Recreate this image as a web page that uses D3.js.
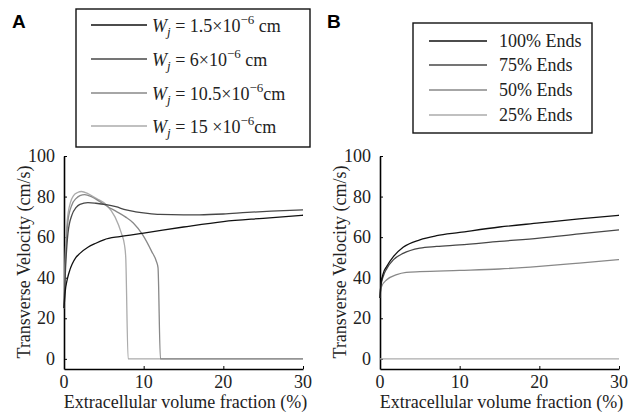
<!DOCTYPE html>
<html>
<head>
<meta charset="utf-8">
<script src="https://cdn.jsdelivr.net/npm/d3@7"></script>
<style>
  body { margin: 0; background: #fff; }
  svg { display: block; }
  .serif { font-family: "Liberation Serif", "Times New Roman", Times, "DejaVu Serif", serif; }
</style>
</head>
<body>
<svg id="chart" width="640" height="416"></svg>
<script>
// panel A: x = extracellular volume fraction (%), y = velocity (cm/s)
var w1x = [0, 0.15, 0.4, 0.75, 1, 1.5, 2, 3, 4, 5, 7, 10, 15, 20, 25, 30];
var w1y = [25, 33, 39, 44, 46.5, 50, 52, 55, 57, 58.7, 60.3, 62, 65, 67.7, 69.3, 70.8];
var w6x = [0, 0.2, 0.5, 1, 1.5, 2, 3, 4, 5.3, 6.5, 7.8, 9, 10.5, 12, 15, 17, 20, 23, 26, 30];
var w6y = [25, 45, 62, 71, 74.5, 76.2, 77, 76.7, 76, 75, 73.4, 72.5, 71.7, 71.2, 71, 71, 71.4, 72.2, 72.8, 73.4];
var w10x = [0, 0.2, 0.5, 1, 1.5, 2, 2.6, 3.5, 4.5, 5.5, 6.6, 7.7, 8.7, 9.9, 11, 11.6, 11.8, 12.1, 20, 30];
var w10y = [25, 50, 68, 76, 79, 80.5, 81, 79.8, 77.5, 75, 72.6, 70, 67, 61, 53, 48, 45, 0, 0, 0];
var w15x = [0, 0.15, 0.4, 0.8, 1.2, 1.7, 2.2, 3, 4.1, 5.3, 6.4, 7.2, 7.6, 7.75, 8.05, 15, 30];
var w15y = [25, 50, 68, 77, 80.5, 82, 82.5, 81.5, 79, 76, 70, 62, 56, 50, 0, 0, 0];

// panel B
var e100x = [0, 0.1, 0.4, 0.85, 1.7, 2.9, 5, 7.1, 10, 15, 20, 25, 30];
var e100y = [30, 36, 42, 45.6, 50.5, 55, 58.7, 60.7, 62.3, 65, 67, 69, 70.8];
var e75x = [0, 0.1, 0.4, 0.85, 1.7, 2.9, 5, 7.1, 10, 15, 20, 25, 30];
var e75y = [30, 35.5, 40.6, 44.5, 48.9, 52, 54.6, 55.4, 56.2, 57.9, 59.5, 61.6, 63.6];
var e50x = [0, 0.1, 0.2, 0.85, 2.1, 3.3, 5, 10, 15, 20, 25, 30];
var e50y = [30, 34, 35.7, 39, 41.5, 42.6, 43, 43.6, 44.3, 45.6, 47.2, 48.9];
var e25x = [0, 30];
var e25y = [0, 0];

var xTicks = [0, 10, 20, 30];
var yTicks = [0, 20, 40, 60, 80, 100];

var wLabels = [["1.5", " cm"], ["6", " cm"], ["10.5", "cm"], ["15 ", "cm"]];
var endLabels = ["100% Ends", "75% Ends", "50% Ends", "25% Ends"];
var greys = ["#111", "#474747", "#888", "#ababab"];

var svg = d3.select("#chart");
var fs = 18;

function zip(xs, ys) { return xs.map((x, i) => ({x: x, y: ys[i]})); }

function panel(left, right, series) {
  var x = d3.scaleLinear().domain([0, 30]).range([left, right]);
  var y = d3.scaleLinear().domain([-5, 100]).range([369, 156]);
  var g = svg.append("g");

  // axes, MATLAB style inward ticks
  g.append("g")
    .attr("transform", "translate(0,369)")
    .call(d3.axisTop(x).tickValues(xTicks).tickSize(3).tickSizeOuter(0).tickFormat(""))
    .call(a => a.select(".domain").attr("stroke-width", 1.6));
  g.append("g")
    .attr("transform", "translate(" + left + ",0)")
    .call(d3.axisRight(y).tickValues(yTicks).tickSize(3).tickSizeOuter(0).tickFormat(""))
    .call(a => a.select(".domain").attr("stroke-width", 1.6));

  g.selectAll(".xl").data(xTicks).enter().append("text")
    .attr("class", "serif")
    .attr("x", d => x(d)).attr("y", 388)
    .attr("text-anchor", "middle")
    .attr("font-size", fs).attr("fill", "#222")
    .text(d => d);
  g.selectAll(".yl").data(yTicks).enter().append("text")
    .attr("class", "serif")
    .attr("x", left - 9).attr("y", d => y(d) + 6)
    .attr("text-anchor", "end")
    .attr("font-size", fs).attr("fill", "#222")
    .text(d => d);

  g.append("text")
    .attr("class", "serif")
    .attr("x", (left + right) / 2 + 2).attr("y", 408)
    .attr("text-anchor", "middle")
    .attr("font-size", fs).attr("fill", "#222")
    .text("Extracellular volume fraction (%)");
  g.append("text")
    .attr("class", "serif")
    .attr("transform", "translate(" + (left - 34) + ",262) rotate(-90)")
    .attr("text-anchor", "middle")
    .attr("font-size", fs).attr("fill", "#222")
    .text("Transverse Velocity (cm/s)");

  var line = d3.line().x(d => x(d.x)).y(d => y(d.y)).curve(d3.curveMonotoneX);
  // draw lightest first so black sits on top
  series.slice().reverse().forEach(function(s) {
    g.append("path")
      .attr("d", line(zip(s[0], s[1])))
      .attr("fill", "none")
      .attr("stroke", s[2])
      .attr("stroke-width", 1.3);
  });
}

panel(64, 303, [[w1x, w1y, greys[0]], [w6x, w6y, greys[1]], [w10x, w10y, greys[2]], [w15x, w15y, greys[3]]]);
panel(380, 619, [[e100x, e100y, greys[0]], [e75x, e75y, greys[1]], [e50x, e50y, greys[2]], [e25x, e25y, greys[3]]]);

// panel letters
svg.append("text").attr("x", 12).attr("y", 28)
  .attr("font-family", "Liberation Sans, Arial, sans-serif").attr("font-weight", "bold")
  .attr("font-size", 19).text("A");
svg.append("text").attr("x", 327).attr("y", 28)
  .attr("font-family", "Liberation Sans, Arial, sans-serif").attr("font-weight", "bold")
  .attr("font-size", 19).text("B");

// legend A
var legA = svg.append("g");
legA.append("rect").attr("x", 76).attr("y", 9).attr("width", 234).attr("height", 138)
  .attr("fill", "none").attr("stroke", "#111").attr("stroke-width", 1.4);
var rowsA = [25, 59, 93, 126];
wLabels.forEach(function(lab, i) {
  legA.append("line").attr("x1", 91).attr("x2", 147).attr("y1", rowsA[i]).attr("y2", rowsA[i])
    .attr("stroke", greys[i]).attr("stroke-width", 1.3);
  var t = legA.append("text").attr("class", "serif").attr("x", 152).attr("y", rowsA[i] + 7)
    .attr("font-size", fs).attr("fill", "#222");
  t.append("tspan").attr("font-style", "italic").text("W");
  t.append("tspan").attr("font-style", "italic").attr("font-size", 13).attr("dy", 4).text("j");
  t.append("tspan").attr("dy", -4).text(" = " + lab[0] + "\u00d710");
  t.append("tspan").attr("font-size", 13).attr("dy", -8).text("\u22126");
  t.append("tspan").attr("dy", 8).text(lab[1]);
});

// legend B
var legB = svg.append("g");
legB.append("rect").attr("x", 413).attr("y", 23).attr("width", 179).attr("height", 110)
  .attr("fill", "none").attr("stroke", "#111").attr("stroke-width", 1.4);
var rowsB = [41, 65, 90, 115];
endLabels.forEach(function(lab, i) {
  legB.append("line").attr("x1", 429).attr("x2", 487).attr("y1", rowsB[i]).attr("y2", rowsB[i])
    .attr("stroke", greys[i]).attr("stroke-width", 1.3);
  legB.append("text").attr("class", "serif").attr("x", 499).attr("y", rowsB[i] + 6)
    .attr("font-size", fs).attr("fill", "#222")
    .text(lab);
});
</script>
</body>
</html>
